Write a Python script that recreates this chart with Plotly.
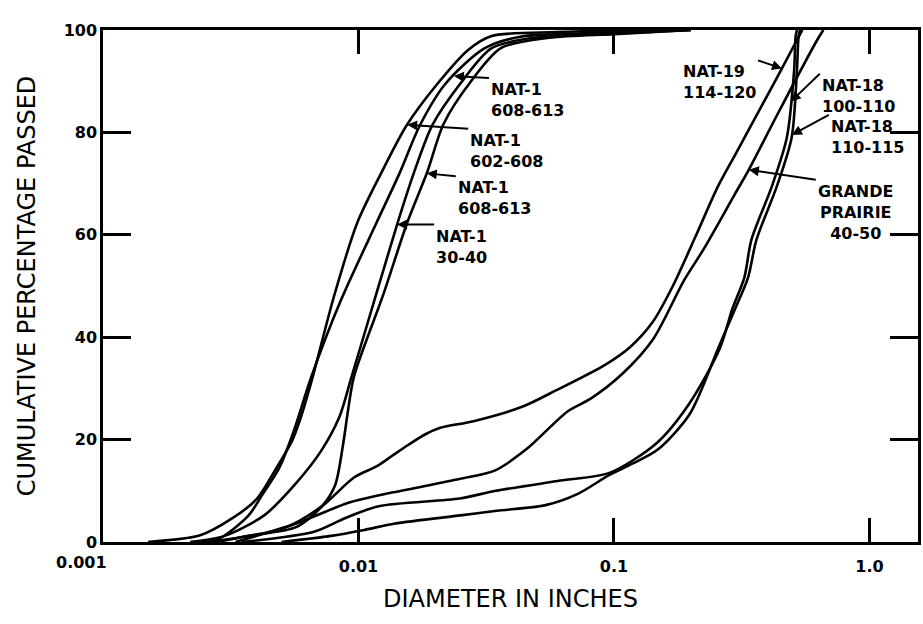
import numpy as np
import plotly.graph_objects as go

# ---- data: diameter (inches) vs cumulative percentage passed ----
# NAT-1 602-608
a_x = [0.0015, 0.0024, 0.0032, 0.0040, 0.0047, 0.0055, 0.0059, 0.0066, 0.0080, 0.0099, 0.0122, 0.0154, 0.0203, 0.0270, 0.0330, 0.060, 0.150]
a_y = [0, 1.3, 4.6, 8.4, 13.9, 19.8, 23.8, 32.0, 47.8, 62.4, 71.8, 81.3, 89.4, 96.2, 98.8, 99.6, 100]
# NAT-1 608-613 (upper label)
b_x = [0.0022, 0.0028, 0.0037, 0.0042, 0.0049, 0.0056, 0.0065, 0.0085, 0.0117, 0.0145, 0.0174, 0.0219, 0.0311, 0.0430, 0.080, 0.200]
b_y = [0, 0.5, 5.1, 9.2, 14.5, 21.9, 31.9, 47.0, 62.1, 72.1, 81.4, 89.5, 96.4, 98.7, 99.4, 100]
# NAT-1 30-40
c_x = [0.0022, 0.0030, 0.0043, 0.0057, 0.0071, 0.0084, 0.0094, 0.0117, 0.0142, 0.0165, 0.0195, 0.0251, 0.0331, 0.0470, 0.100, 0.200]
c_y = [0, 1.2, 5.3, 11.5, 17.6, 24.3, 32.3, 48.2, 62.2, 72.2, 81.5, 89.6, 96.4, 98.4, 99.3, 100]
# NAT-1 608-613 (lower label)
d_x = [0.0028, 0.0037, 0.0057, 0.0072, 0.0081, 0.0087, 0.0091, 0.0096, 0.0125, 0.0155, 0.0186, 0.0215, 0.0273, 0.0362, 0.056, 0.100, 0.200]
d_y = [0, 1.2, 2.9, 7.0, 11.1, 19.0, 25.7, 32.3, 48.3, 62.3, 72.3, 81.6, 89.7, 96.5, 98.5, 99.2, 100]
# NAT-19 114-120
e_x = [0.0026, 0.0051, 0.0072, 0.0096, 0.0118, 0.0136, 0.0157, 0.0182, 0.0209, 0.0282, 0.0437, 0.0598, 0.0923, 0.1164, 0.1415, 0.170, 0.210, 0.255, 0.301, 0.373, 0.448, 0.546]
e_y = [0, 2.7, 7.0, 12.6, 14.8, 16.9, 19.0, 21.0, 22.3, 23.6, 26.4, 29.7, 34.6, 38.2, 42.9, 50.0, 60.0, 69.4, 76.0, 84.6, 91.9, 100]
# GRANDE PRAIRIE 40-50
f_x = [0.0033, 0.0057, 0.0092, 0.0137, 0.0248, 0.0343, 0.0456, 0.0658, 0.0811, 0.1076, 0.1423, 0.188, 0.2244, 0.297, 0.337, 0.435, 0.625, 0.660]
f_y = [0, 3.6, 7.7, 9.7, 12.3, 14.0, 18.2, 25.5, 28.0, 32.8, 39.6, 51.1, 57.2, 67.9, 72.7, 83.4, 98.1, 100]
# NAT-18 100-110
g_x = [0.0035, 0.0067, 0.0089, 0.0120, 0.0249, 0.0345, 0.0617, 0.096, 0.1475, 0.197, 0.259, 0.291, 0.324, 0.345, 0.416, 0.475, 0.507, 0.514, 0.520]
g_y = [0, 2.0, 4.7, 7.0, 8.5, 10.0, 12.0, 13.5, 19.4, 27.0, 37.7, 45.6, 51.7, 59.0, 69.6, 79.0, 92.0, 98.7, 100]
# NAT-18 110-115
h_x = [0.0050, 0.0078, 0.0104, 0.0139, 0.0251, 0.0348, 0.054, 0.0722, 0.096, 0.118, 0.148, 0.198, 0.258, 0.299, 0.335, 0.361, 0.435, 0.496, 0.520, 0.528, 0.535]
h_y = [0, 1.2, 2.3, 3.6, 5.2, 6.1, 7.2, 9.4, 13.1, 15.3, 18.0, 25.0, 38.3, 45.7, 51.7, 59.0, 69.6, 79.0, 92.0, 98.7, 100]

x_tick_vals = [0.01, 0.1, 1.0]
x_tick_text = ["0.01", "0.1", "1.0"]
y_tick_vals = [0, 20, 40, 60, 80, 100]

series = [
    ("NAT-1 602-608", a_x, a_y),
    ("NAT-1 608-613", b_x, b_y),
    ("NAT-1 30-40", c_x, c_y),
    ("NAT-1 608-613 ", d_x, d_y),
    ("NAT-19 114-120", e_x, e_y),
    ("GRANDE PRAIRIE 40-50", f_x, f_y),
    ("NAT-18 100-110", g_x, g_y),
    ("NAT-18 110-115", h_x, h_y),
]

FONT = "DejaVu Sans"
fig = go.Figure()
for name, xs, ys in series:
    fig.add_trace(go.Scatter(x=xs, y=ys, mode="lines", name=name,
                             line=dict(color="black", width=2.6, shape="spline", smoothing=0.8)))

# labels: (text, curve x, curve y, y at arrow tip, ax, ay, xanchor, align)
labels = [
    ("<b>NAT-1<br>608-613</b>", b_x, b_y, 91.0, 35, 2, "left", "left"),
    ("<b>NAT-1<br>602-608</b>", a_x, a_y, 81.5, 61, 4, "left", "left"),
    ("<b>NAT-1<br>608-613</b>", d_x, d_y, 72.0, 29, 3, "left", "left"),
    ("<b>NAT-1<br>30-40</b>", c_x, c_y, 62.0, 37, 0, "left", "left"),
    ("<b>NAT-19<br>114-120</b>", e_x, e_y, 92.5, -24, -8, "right", "left"),
    ("<b>NAT-18<br>100-110</b>", g_x, g_y, 86.0, 29, -28, "left", "left"),
    ("<b>NAT-18<br>110-115</b>", h_x, h_y, 79.5, 37, -20, "left", "left"),
    ("<b>GRANDE<br>PRAIRIE<br>40-50</b>", f_x, f_y, 72.7, 67, 10, "left", "center"),
]
for text, xs, ys, yt, ax, ay, xa, al in labels:
    xt = float(np.interp(yt, ys, np.log10(xs)))
    fig.add_annotation(x=xt, y=yt, xref="x", yref="y", text=text, showarrow=True,
                       ax=ax, ay=ay, xanchor=xa, yanchor="top", align=al,
                       arrowhead=2, arrowsize=1, arrowwidth=2, arrowcolor="black",
                       font=dict(family=FONT, size=16, color="black"))

# left corner tick label
fig.add_annotation(x=0, y=0, xref="paper", yref="y", text="<b>0.001</b>", showarrow=False,
                   xanchor="right", yanchor="top", xshift=6, yshift=-9,
                   font=dict(family=FONT, size=16, color="black"))

fig.update_layout(
    width=923, height=624,
    margin=dict(l=103, r=5, t=30, b=82),
    paper_bgcolor="white", plot_bgcolor="white",
    showlegend=False,
    font=dict(family=FONT, size=16, color="black"),
)
fig.update_xaxes(
    type="log", range=[-3, 0.19],
    tickvals=x_tick_vals, ticktext=["<b>%s</b>" % t for t in x_tick_text],
    ticks="inside", ticklen=24, tickwidth=2.5, tickcolor="black",
    showline=True, linewidth=2.5, linecolor="black", mirror="ticks",
    showgrid=False, zeroline=False, automargin=False,
    ticklabelstandoff=8,
    tickfont=dict(family=FONT, size=16),
    title=dict(text="DIAMETER IN INCHES", font=dict(family=FONT, size=24), standoff=16),
)
fig.update_yaxes(
    range=[0, 100], tickvals=y_tick_vals,
    ticktext=["<b>%d</b>" % v for v in y_tick_vals],
    ticks="inside", ticklen=28, tickwidth=2.5, tickcolor="black",
    showline=True, linewidth=2.5, linecolor="black", mirror="ticks",
    showgrid=False, zeroline=False, automargin=False,
    tickfont=dict(family=FONT, size=16),
    title=dict(text="CUMULATIVE PERCENTAGE PASSED", font=dict(family=FONT, size=24), standoff=22),
)

fig.write_html("out.html")
